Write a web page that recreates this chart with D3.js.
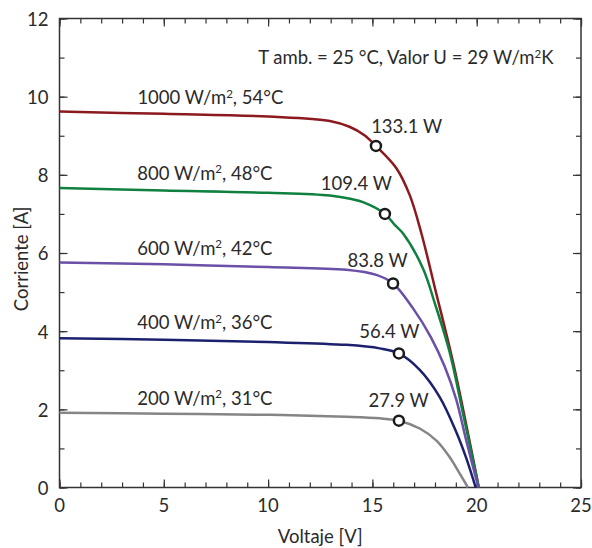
<!DOCTYPE html>
<html>
<head>
<meta charset="utf-8">
<script src="https://cdn.jsdelivr.net/npm/d3@7"></script>
<style>
  body { margin: 0; background: #fff; }
  text { font-family: Lato, "Open Sans", sans-serif; fill: #2a2a2a; font-size: 18.5px; }
</style>
</head>
<body>
<div id="chart"></div>
<script>
// curves: [voltage, current]
var curve1000 = [[0, 9.62], [5, 9.56], [10, 9.49], [12.96, 9.38], [13.9, 9.23], [14.6, 9.02], [15.17, 8.74],
  [16.15, 8.17], [16.79, 7.48], [17.35, 6.5], [18.0, 5.1], [18.86, 3.22], [19.5, 1.6], [20.1, 0]];
var curve800 = [[0, 7.66], [5, 7.6], [10, 7.54], [12.96, 7.47], [14.0, 7.38], [14.55, 7.3], [15.6, 7.0],
  [16.07, 6.72], [16.47, 6.5], [17.42, 5.61], [18.0, 4.7], [18.7, 3.47], [19.4, 1.75], [20.1, 0]];
var curve600 = [[0, 5.76], [5, 5.71], [10, 5.64], [13.75, 5.57], [15.19, 5.44], [15.99, 5.22], [16.94, 4.59],
  [17.8, 3.85], [18.46, 3.1], [19.02, 2.25], [19.5, 1.2], [20.08, 0]];
var curve400 = [[0, 3.82], [5, 3.78], [10, 3.72], [13.75, 3.65], [15.35, 3.56], [16.27, 3.43], [17.27, 3.01],
  [18.22, 2.32], [19.02, 1.42], [19.5, 0.75], [19.95, 0]];
var curve200 = [[0, 1.91], [5, 1.89], [10, 1.86], [13.75, 1.81], [15.35, 1.77], [16.27, 1.71], [17.27, 1.51],
  [18.07, 1.2], [18.7, 0.78], [19.18, 0.36], [19.58, 0]];

var curveLabels = ["1000 W/m², 54°C", "800 W/m², 48°C", "600 W/m², 42°C", "400 W/m², 36°C", "200 W/m², 31°C"];
var curveColors = ["#8b1a1f", "#0f8040", "#6a50a7", "#1c216e", "#858585"];

// maximum power points
var mppV = [15.17, 15.6, 15.99, 16.27, 16.27];
var mppI = [8.74, 7.0, 5.22, 3.43, 1.71];
var mppLabels = ["133.1 W", "109.4 W", "83.8 W", "56.4 W", "27.9 W"];

// label anchors (data coords)
var curveLabelV = [7.23, 6.97, 6.97, 6.97, 6.97];
var curveLabelI = [9.98, 8.05, 6.13, 4.22, 2.29];
var mppLabelV = [16.64, 14.23, 15.25, 15.81, 16.26];
var mppLabelI = [9.25, 7.77, 5.82, 3.99, 2.23];

var xTicks = [0, 5, 10, 15, 20, 25];
var yTicks = [0, 2, 4, 6, 8, 10, 12];

var W = 592, H = 548;
var mLeft = 59.5, mRight = 581, mTop = 18.5, mBottom = 487.5;

var svg = d3.select("#chart").append("svg")
    .attr("width", W)
    .attr("height", H);

var x = d3.scaleLinear().domain([0, 25]).range([mLeft, mRight]);
var y = d3.scaleLinear().domain([0, 12]).range([mBottom, mTop]);

// frame ticks, all pointing inward
function minor(n) { return d3.range(0, n + 1); }

svg.append("g").attr("transform", "translate(0," + mBottom + ")")
    .call(d3.axisTop(x).tickValues(minor(25)).tickSize(5).tickFormat(""));
svg.append("g").attr("transform", "translate(0," + mBottom + ")")
    .call(d3.axisTop(x).tickValues(xTicks).tickSize(8).tickFormat(""));
svg.append("g").attr("transform", "translate(0," + mTop + ")")
    .call(d3.axisBottom(x).tickValues(minor(25)).tickSize(5).tickFormat(""));
svg.append("g").attr("transform", "translate(0," + mTop + ")")
    .call(d3.axisBottom(x).tickValues(xTicks).tickSize(8).tickFormat(""));
svg.append("g").attr("transform", "translate(" + mLeft + ",0)")
    .call(d3.axisRight(y).tickValues(minor(12)).tickSize(5).tickFormat(""));
svg.append("g").attr("transform", "translate(" + mLeft + ",0)")
    .call(d3.axisRight(y).tickValues(yTicks).tickSize(8).tickFormat(""));
svg.append("g").attr("transform", "translate(" + mRight + ",0)")
    .call(d3.axisLeft(y).tickValues(minor(12)).tickSize(5).tickFormat(""));
svg.append("g").attr("transform", "translate(" + mRight + ",0)")
    .call(d3.axisLeft(y).tickValues(yTicks).tickSize(8).tickFormat(""));

svg.selectAll(".domain").remove();
svg.selectAll(".tick line").attr("stroke", "#333").attr("stroke-width", 1.2);

svg.append("rect")
    .attr("x", mLeft).attr("y", mTop)
    .attr("width", mRight - mLeft).attr("height", mBottom - mTop)
    .attr("fill", "none").attr("stroke", "#333").attr("stroke-width", 1.5);

// writes text, turning "²" into a raised small 2
function supText(sel) {
    sel.each(function (d) {
        var t = d3.select(this), parts = String(d).split("²");
        parts.forEach(function (p, k) {
            if (k > 0) {
                t.append("tspan").attr("dy", -6.5).style("font-size", "11.5px").text("2");
                t.append("tspan").attr("dy", 6.5).text(p);
            } else {
                t.append("tspan").text(p);
            }
        });
    });
}

// tick labels
svg.selectAll(".xl").data(xTicks).enter().append("text")
    .attr("x", function (d) { return x(d); })
    .attr("y", mBottom + 24.5)
    .attr("text-anchor", "middle")
    .text(function (d) { return d; });

svg.selectAll(".yl").data(yTicks).enter().append("text")
    .attr("x", mLeft - 11)
    .attr("y", function (d) { return y(d); })
    .attr("dy", "0.4em")
    .attr("text-anchor", "end")
    .text(function (d) { return d; });

// axis titles
svg.append("text")
    .attr("x", x(12.5)).attr("y", 543)
    .attr("text-anchor", "middle")
    .text("Voltaje [V]");

svg.append("text")
    .attr("transform", "translate(28," + y(5.85) + ") rotate(-90)")
    .attr("text-anchor", "middle")
    .text("Corriente [A]");

// curves
var line = d3.line()
    .curve(d3.curveCatmullRom.alpha(0.5))
    .x(function (d) { return x(d[0]); })
    .y(function (d) { return y(d[1]); });

var curves = [curve1000, curve800, curve600, curve400, curve200];
svg.selectAll(".iv").data(curves).enter().append("path")
    .attr("d", line)
    .attr("fill", "none")
    .attr("stroke", function (d, i) { return curveColors[i]; })
    .attr("stroke-width", 2.5);

svg.selectAll(".cl").data(curveLabels).enter().append("text")
    .attr("x", function (d, i) { return x(curveLabelV[i]); })
    .attr("y", function (d, i) { return y(curveLabelI[i]); })
    .attr("dy", "0.36em")
    .attr("text-anchor", "middle")
    .call(supText);

// max power points
svg.selectAll(".mpp").data(mppV).enter().append("circle")
    .attr("cx", function (d) { return x(d); })
    .attr("cy", function (d, i) { return y(mppI[i]); })
    .attr("r", 5)
    .attr("fill", "#fff")
    .attr("stroke", "#1a1a1a")
    .attr("stroke-width", 2.5);

svg.selectAll(".ml").data(mppLabels).enter().append("text")
    .attr("x", function (d, i) { return x(mppLabelV[i]); })
    .attr("y", function (d, i) { return y(mppLabelI[i]); })
    .attr("dy", "0.36em")
    .attr("text-anchor", "middle")
    .text(function (d) { return d; });

svg.append("text").datum("T amb. = 25 °C, Valor U = 29 W/m²K")
    .attr("x", x(16.6)).attr("y", y(11.0))
    .attr("dy", "0.36em")
    .attr("text-anchor", "middle")
    .call(supText);
</script>
</body>
</html>
